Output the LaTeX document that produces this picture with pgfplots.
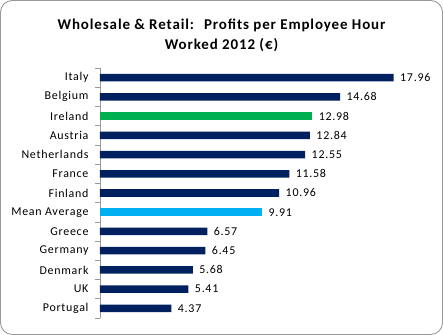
\documentclass[border=0pt]{standalone}
\usepackage{pgfplots}
\pgfplotsset{compat=1.18}
\usepackage{fontspec}
\setmainfont{Carlito}
\newfontfamily\wide[LetterSpace=6]{Carlito}
\newfontfamily\widetitle[LetterSpace=6]{Carlito}
\definecolor{navy}{RGB}{0,32,96}
\definecolor{irl}{RGB}{0,176,80}
\definecolor{mean}{RGB}{0,176,240}
\begin{document}
\begin{tikzpicture}[x=1bp,y=1bp]
\draw[draw=gray!80, line width=0.9bp, rounded corners=12bp] (0.5,0.5) rectangle (442.5,334.5);
\node[font=\widetitle\bfseries\fontsize{15}{20}\selectfont, align=center] at (221.5,300) {Wholesale \& Retail:~ Profits per Employee Hour\\Worked 2012 (€)};
\begin{axis}[
  at={(100bp,17bp)}, anchor=south west,
  scale only axis, width=327bp, height=250bp,
  xmin=0, xmax=20, ymin=-0.5, ymax=12.5, y dir=reverse,
  xbar, bar width=7.5bp, bar shift=0pt,
  axis x line=none,
  axis y line*=left,
  y axis line style={draw=gray!80, line width=0.6bp},
  ytick={0,...,12},
  yticklabels={Italy,Belgium,Ireland,Austria,Netherlands,France,Finland,Mean Average,Greece,Germany,Denmark,UK,Portugal},
  major tick length=0pt,
  minor ytick={-0.5,0.5,...,12.5},
  minor tick length=5bp,
  tick align=outside,
  minor tick style={draw=gray!80, line width=0.6bp},
  yticklabel style={font=\wide\fontsize{12}{13}\selectfont, anchor=east, xshift=-8bp},
  nodes near coords, point meta=x,
  nodes near coords style={font=\wide\fontsize{12}{13}\selectfont, black, anchor=west, xshift=3bp, /pgf/number format/fixed, /pgf/number format/fixed zerofill, /pgf/number format/precision=2, /pgf/number format/assume math mode=true},
  clip=false,
]
\addplot[fill=navy, draw=none] coordinates {(17.96,0) (14.68,1) (12.84,3) (12.55,4) (11.58,5) (10.96,6) (6.57,8) (6.45,9) (5.68,10) (5.41,11) (4.37,12)};
\addplot[fill=irl, draw=none] coordinates {(12.98,2)};
\addplot[fill=mean, draw=none] coordinates {(9.91,7)};
\end{axis}
\end{tikzpicture}
\end{document}
